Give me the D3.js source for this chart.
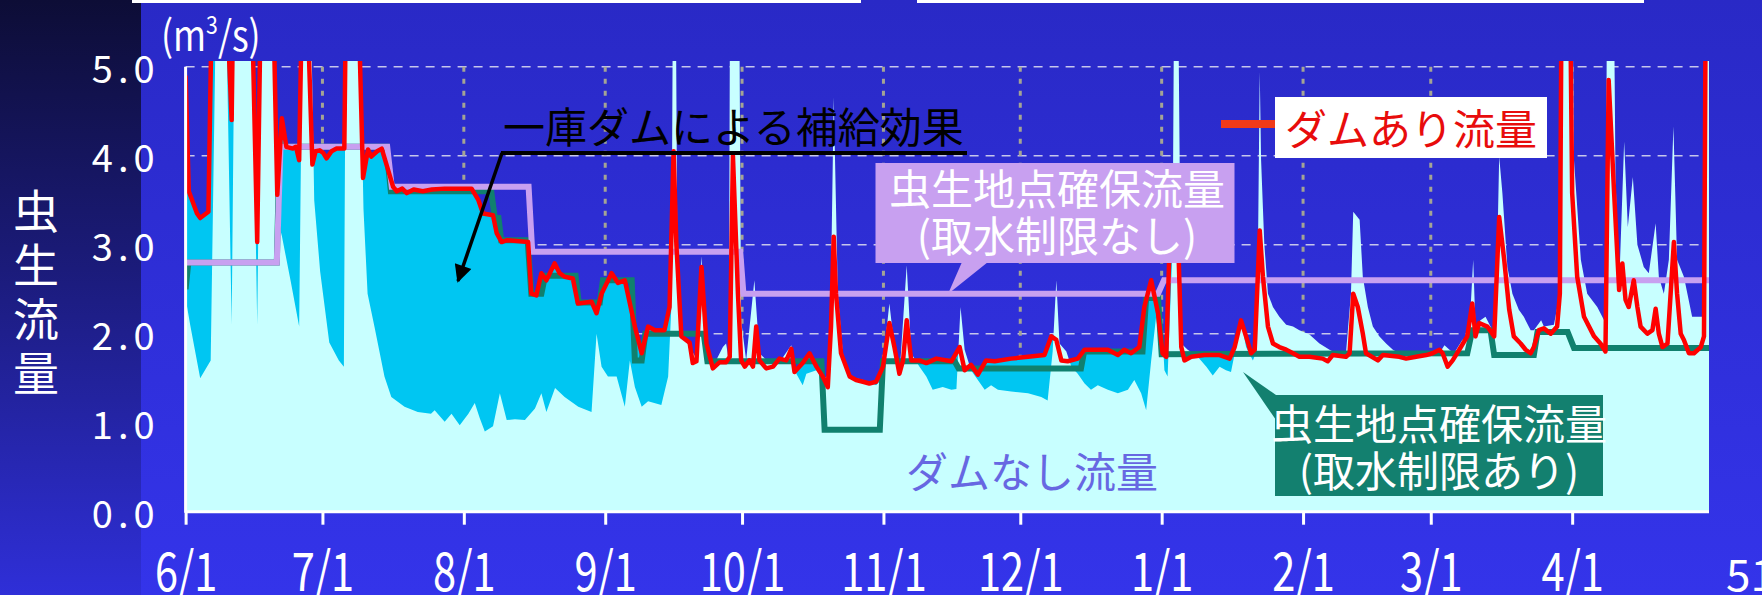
<!DOCTYPE html>
<html>
<head>
<meta charset="utf-8">
<script src="https://cdn.jsdelivr.net/npm/d3@7"></script>
<style>
  html, body { margin: 0; padding: 0; background: #2d2dd4; overflow: hidden; }
  svg { display: block; }
  text { font-family: "Noto Sans CJK JP", "Noto Sans", sans-serif; }
</style>
</head>
<body>
<div id="chart"></div>
<script>
// ========= Data: [day offset from 6/1, m3/s] ========= //
const startDate = Date.UTC(2002, 5, 1);
const endDate = Date.UTC(2003, 4, 1);
const tickLabels = ['6/1', '7/1', '8/1', '9/1', '10/1', '11/1', '12/1', '1/1', '2/1', '3/1', '4/1'];
const yTicks = [0, 1, 2, 3, 4, 5];

// ダムなし流量
const noDamFlow = [[0,2.4],[1,2.1],[3.2,1.5],[5.5,1.7],[6.9,6.5],[8.6,6.5],[10.1,2.1],[10.9,6.5],[14.3,6.5],[15.7,2.1],[16.7,6.5],[18.9,6.5],[20.1,3.3],[21.1,3.1],[23,2.6],[24.9,2.08],[25.8,6.5],[27.2,6.5],[28.2,3.5],[29.5,2.7],[31.5,1.9],[33.6,1.7],[34.7,1.63],[35.2,6.5],[37.8,6.5],[39,3.4],[39.9,2.45],[41.4,2.08],[43.6,1.52],[45.1,1.29],[48,1.18],[50.9,1.12],[53.8,1.1],[54.6,1.14],[56.8,1.01],[58.3,1.1],[60.1,0.97],[62,1.1],[63.4,1.22],[64.5,1.05],[65.6,0.9],[67.4,0.96],[68.9,1.33],[70.4,1.03],[72.2,1.04],[74.4,1.03],[76.6,1.16],[78,1.33],[79.1,1.12],[81,1.39],[83.1,1.29],[86.1,1.18],[89,1.12],[90.1,2],[91.2,1.63],[92.6,1.52],[94.5,1.52],[96.3,1.18],[97.4,1.7],[98.5,1.4],[100,1.18],[101.4,1.24],[104.3,1.2],[105.8,1.52],[106.5,2.3],[106.9,6.5],[107.4,6.5],[107.8,3],[108.6,2],[110.5,1.85],[112,1.72],[113.1,2.87],[114.2,1.89],[115.6,1.63],[117.8,1.85],[118.5,1.89],[119.1,1.7],[119.4,6.5],[121.3,6.5],[121.8,2.15],[122.9,1.7],[124.7,2.6],[125.8,1.78],[128,1.67],[130.2,1.68],[132.8,1.87],[133.9,1.55],[135.3,1.42],[136.1,1.55],[138.3,1.59],[139.7,1.48],[141.2,1.55],[142.1,4.66],[143,2.45],[144.1,1.78],[145.6,1.52],[148.5,1.48],[151.4,1.42],[152.5,1.48],[154.3,2.34],[155.4,1.85],[156.5,1.52],[158.1,2.77],[159.1,1.78],[160.9,1.63],[162.4,1.52],[163.8,1.37],[166,1.4],[167.9,1.37],[169,1.38],[169.9,2.3],[170.8,1.82],[172.2,1.59],[173.7,1.48],[175.2,1.37],[176.6,1.42],[178.1,1.37],[181,1.35],[184.7,1.33],[187.6,1.29],[189,1.25],[190.1,1.8],[190.9,2.6],[191.6,1.89],[193.1,1.8],[194.2,1.63],[195.6,1.55],[197.1,1.44],[198.5,1.37],[200,1.42],[202.2,1.37],[204.4,1.33],[206.6,1.37],[208,1.48],[209.5,1.33],[210.6,1.14],[211.7,1.7],[212.8,2.2],[213.9,2.27],[214.6,1.59],[215.3,1.52],[216.4,3],[216.8,6.5],[217.5,6.5],[218.3,1.89],[219.7,1.82],[221.9,1.74],[223.8,1.63],[225.2,1.53],[226.7,1.63],[228.1,1.59],[229.2,1.57],[230.3,1.85],[231.4,2.15],[232.5,1.85],[234,1.7],[234.9,1.82],[235.5,4.95],[235.8,3.95],[236.5,3.01],[237.3,2.45],[238.4,2.3],[239.8,2.19],[241.3,2.1],[242.8,2.08],[244.2,2.04],[246.4,1.99],[248.6,1.89],[250.8,1.82],[252.3,1.78],[254.4,1.78],[255.5,2.45],[256,3.37],[257.4,3.28],[258.1,2.64],[259.2,2.3],[260.3,2.08],[261.7,1.97],[263.2,1.89],[264.7,1.82],[266.1,1.78],[274.9,1.78],[276,1.87],[277.1,1.82],[278.1,1.78],[279.9,1.93],[281.4,1.97],[282.3,2.83],[282.8,2.08],[283.9,2.15],[285,2.19],[286.1,2.08],[287.2,2],[288,3.99],[288.7,3.58],[289.8,2.75],[290.9,2.45],[292.3,2.27],[293.4,2.19],[294.9,2.04],[295.6,2.04],[297.2,2.15],[297.8,2.08],[300,2.1],[301.3,2.45],[301.8,8],[303.7,8],[304.4,3.95],[305.9,2.83],[307.3,2.45],[309.5,2.3],[311,2.15],[311.3,1.9],[311.8,8],[312.8,8],[313.5,3.76],[314.3,2.53],[315.4,4.16],[316.2,3.2],[317.3,3.76],[318.3,3],[319.7,2.75],[320.8,2.68],[322.3,3.24],[323,2.64],[324.1,2.45],[325.2,2.83],[326.2,4.33],[327,2.83],[328.5,2.64],[330.3,2.19],[332.5,2.19],[333,2.5],[333.4,8],[334,8]];

// ダムあり流量
const damFlow = [[0,4.9],[0.7,3.6],[2.5,3.35],[3.2,3.3],[5,3.37],[6,6.5],[8.4,6.5],[10.1,4.4],[10.6,6.5],[14.2,6.5],[15.7,3.03],[16.7,6.5],[18.9,6.5],[20.1,3.56],[21.1,4.42],[22.1,4.1],[23.5,4.08],[24.2,4.1],[24.9,3.95],[25.6,6],[26.5,6],[27.8,3.9],[28.5,4.05],[29.4,4.06],[30.2,4.03],[30.9,3.97],[32,4.05],[33.1,4.08],[34.8,4.08],[35.3,6.5],[37.5,6.5],[38.9,3.75],[40,4.07],[40.7,3.99],[42,4.05],[43,4.08],[45.5,3.65],[46.3,3.6],[47.5,3.63],[48.5,3.58],[50,3.62],[52,3.6],[54,3.62],[56.8,3.63],[62.7,3.63],[64.2,3.5],[65.2,3.35],[67.4,3.33],[68.2,3.13],[69.3,3.03],[70.4,3.05],[75.1,3.03],[75.8,2.45],[76.9,2.43],[78,2.68],[79.1,2.6],[80.9,2.79],[82,2.68],[83.1,2.64],[84.9,2.62],[86,2.34],[89,2.36],[90.1,2.23],[91.2,2.45],[93.4,2.68],[94.8,2.57],[96.3,2.6],[98.5,2.08],[100,1.78],[101.4,2.08],[102.9,2.04],[105,2.04],[106.1,2.3],[107,4.05],[107.6,3],[108.7,1.97],[110.5,1.9],[111.2,1.67],[112,1.69],[113.1,2.75],[114.2,1.89],[115.6,1.61],[117.1,1.68],[118.5,1.68],[119.3,1.74],[120,4],[121.1,2.45],[121.8,1.7],[122.6,1.63],[123.6,1.7],[124.4,1.63],[125.1,2.08],[125.8,1.7],[127.3,1.61],[128.8,1.63],[130.2,1.72],[131.7,1.7],[132.8,1.83],[133.5,1.57],[135.3,1.67],[136.8,1.78],[138.3,1.63],[139.7,1.52],[140.8,1.4],[141.5,2.08],[142.1,3.09],[142.6,2.45],[143.7,1.78],[145.6,1.52],[147,1.48],[148.5,1.46],[149.9,1.44],[151.4,1.46],[152.9,1.63],[154.3,2.12],[155.4,1.85],[156.5,1.55],[157.3,1.7],[158.1,2.15],[159.1,1.7],[160.9,1.7],[162.4,1.67],[164.6,1.72],[167.9,1.69],[169.7,1.85],[170.8,1.59],[172.2,1.65],[173.7,1.54],[175.5,1.7],[177.4,1.69],[181,1.72],[184.7,1.74],[188.3,1.76],[189.8,1.97],[190.9,1.93],[192,1.7],[193.4,1.69],[195.6,1.72],[197.1,1.82],[202.2,1.82],[204.4,1.76],[205.8,1.82],[207.3,1.78],[209.1,1.85],[210.2,2.3],[211.7,2.6],[213.2,2.23],[214.2,1.78],[215,1.74],[216.2,3.8],[217.3,3.6],[218.3,1.85],[219,1.7],[220.5,1.74],[223.4,1.76],[226.7,1.76],[228.9,1.72],[230,1.85],[231.4,2.15],[232.5,1.97],[233.6,1.78],[234.4,1.82],[235.5,3.16],[236.2,2.64],[237.3,2.08],[238.4,1.89],[239.8,1.85],[241.3,1.82],[242.8,1.78],[244.2,1.74],[246.4,1.74],[249.3,1.72],[250.4,1.69],[251.5,1.76],[254.4,1.74],[255.2,1.78],[256,2.45],[257,2.3],[258.1,2],[258.8,1.78],[261.4,1.7],[262.5,1.76],[266.1,1.74],[267.6,1.72],[269.8,1.74],[272,1.76],[273.4,1.78],[274.9,1.82],[275.6,1.78],[276.7,1.63],[277.8,1.7],[279.6,1.85],[281,1.97],[282.1,2.34],[282.8,1.97],[283.6,2.12],[285.4,2.08],[286.9,1.97],[288,3.31],[289.1,2.83],[290.2,2.27],[291.2,1.97],[292.7,1.89],[293.8,1.82],[294.9,1.78],[295.6,1.85],[296.7,2.04],[297.8,2.06],[299.3,2],[300.7,2.08],[301.3,2.45],[301.8,7],[303.3,7],[304,3.58],[305.1,2.64],[306.6,2.19],[308.8,1.97],[310.2,1.89],[311.3,1.8],[312,4.85],[313.2,3.58],[314.3,2.49],[315,2.79],[315.7,2.38],[316.4,2.3],[317.5,2.6],[318.3,2.3],[319,2.08],[320.5,2],[321.6,2.04],[322.3,2.28],[323,2],[323.8,1.85],[324.9,1.89],[326.3,3.03],[327,2.45],[327.8,2],[328.5,1.93],[329.6,1.78],[330.7,1.78],[332.2,1.85],[332.9,1.97],[333.4,7],[334,7]];

// 虫生地点確保流量（取水制限あり）
const keepFlowLimited = [[0,2.5],[0.6,2.8],[20,2.8],[20.6,4.1],[44,4.1],[45,3.6],[67,3.6],[67.8,3.3],[68.6,3.3],[69.2,3.05],[75,3.05],[75.8,2.45],[78,2.45],[78.8,2.65],[85.5,2.65],[86.2,2.35],[90.8,2.35],[91.5,2.6],[97.8,2.6],[98.5,1.7],[100,1.7],[100.8,2],[113.6,2],[114.4,1.69],[139.4,1.69],[140.1,0.92],[152.2,0.92],[152.9,1.69],[168.6,1.69],[169.5,1.61],[196.3,1.61],[197,1.8],[209.8,1.8],[210.6,2.4],[213.2,2.4],[214,1.77],[281,1.78],[282.1,2.04],[286.1,2.04],[286.9,1.76],[295.6,1.76],[296.4,2.02],[303,2.02],[304.4,1.84],[334,1.84]];

// 虫生地点確保流量（取水制限なし）
const keepFlowFree = [[0,2.8],[20,2.8],[20.8,4.1],[44.2,4.1],[45.2,3.65],[75.2,3.65],[76,2.92],[121.6,2.92],[122.3,2.45],[213.2,2.45],[214.5,2.6],[334,2.6]];

// ========= Setup ========= //
const W = 1762, H = 595;
const svg = d3.select('#chart').append('svg')
  .attr('width', W)
  .attr('height', H);

const x = d3.scaleUtc()
  .domain([new Date(startDate), new Date(endDate)])
  .range([185.6, 1709]);
const y = d3.scaleLinear()
  .domain([0, 5])
  .range([511.7, 66.7]);

const toDate = d => new Date(startDate + d * 864e5);
const tickDates = tickLabels.map(s => {
  const [m, d] = s.split('/').map(Number);
  return new Date(Date.UTC(m >= 6 ? 2002 : 2003, m - 1, d));
});

// ========= Defs ========= //
const defs = svg.append('defs');

const bg = defs.append('linearGradient').attr('id', 'bg').attr('x1', 0).attr('y1', 0).attr('x2', 0).attr('y2', 1);
bg.append('stop').attr('offset', '0%').attr('stop-color', '#2929c6');
bg.append('stop').attr('offset', '100%').attr('stop-color', '#3434ea');

const side = defs.append('linearGradient').attr('id', 'side').attr('x1', 0).attr('y1', 0).attr('x2', 0).attr('y2', 1);
side.append('stop').attr('offset', '0%').attr('stop-color', '#0d0d36');
side.append('stop').attr('offset', '45%').attr('stop-color', '#1b1b7a');
side.append('stop').attr('offset', '100%').attr('stop-color', '#2f2fd8');

defs.append('clipPath').attr('id', 'plot-clip')
  .append('rect')
    .attr('x', x.range()[0])
    .attr('y', 61)
    .attr('width', x.range()[1] - x.range()[0])
    .attr('height', y(0) - 61);

defs.append('marker')
  .attr('id', 'arrow')
  .attr('viewBox', '0 0 10 10')
  .attr('refX', 9).attr('refY', 5)
  .attr('markerWidth', 6).attr('markerHeight', 5)
  .attr('orient', 'auto')
  .append('path')
    .attr('d', 'M0,0 L10,5 L0,10 z')
    .attr('fill', '#000');

// ========= Background ========= //
svg.append('rect').attr('width', W).attr('height', H).attr('fill', 'url(#bg)');
svg.append('rect').attr('width', 141).attr('height', H).attr('fill', 'url(#side)');

// bottom edges of the slide's title boxes
svg.append('rect').attr('x', 132).attr('y', 0).attr('width', 729).attr('height', 3).attr('fill', '#fff');
svg.append('rect').attr('x', 917).attr('y', 0).attr('width', 727).attr('height', 3).attr('fill', '#fff');

// ========= Grid ========= //
svg.append('g').selectAll('line')
  .data(yTicks.filter(v => v > 0))
  .join('line')
    .attr('x1', x.range()[0]).attr('x2', x.range()[1])
    .attr('y1', d => y(d)).attr('y2', d => y(d))
    .attr('stroke', '#c6c6ec')
    .attr('stroke-width', 1.5)
    .attr('stroke-dasharray', '9,7');

svg.append('g').selectAll('line')
  .data(tickDates.slice(1))
  .join('line')
    .attr('x1', d => x(d)).attr('x2', d => x(d))
    .attr('y1', y(5)).attr('y2', y(0))
    .attr('stroke', '#a4a494')
    .attr('stroke-width', 3)
    .attr('stroke-dasharray', '5,7');

// ========= Series ========= //
const plot = svg.append('g').attr('clip-path', 'url(#plot-clip)');

const area = d3.area()
  .x(d => x(toDate(d[0])))
  .y0(y(0))
  .y1(d => y(d[1]));
const line = d3.line()
  .x(d => x(toDate(d[0])))
  .y(d => y(d[1]));

plot.append('path').datum(damFlow)
  .attr('d', area)
  .attr('fill', '#00c6f2');

plot.append('path').datum(noDamFlow)
  .attr('d', area)
  .attr('fill', '#c8ffff');

plot.append('path').datum(keepFlowLimited)
  .attr('d', line)
  .attr('fill', 'none')
  .attr('stroke', '#10806e')
  .attr('stroke-width', 6);

plot.append('path').datum(keepFlowFree)
  .attr('d', line)
  .attr('fill', 'none')
  .attr('stroke', '#c8a0f0')
  .attr('stroke-width', 6);

plot.append('path').datum(damFlow)
  .attr('d', line)
  .attr('fill', 'none')
  .attr('stroke', '#ff0000')
  .attr('stroke-width', 4.5)
  .attr('stroke-linejoin', 'round');

// ========= Axes ========= //
const xAxis = svg.append('g')
  .attr('transform', `translate(0,${y(0)})`)
  .call(d3.axisBottom(x).tickValues(tickDates).tickFormat(d3.utcFormat('%-m/%-d')).tickSize(13));
xAxis.select('.domain').remove();
xAxis.selectAll('.tick line').attr('stroke', '#fff').attr('stroke-width', 3);
xAxis.selectAll('.tick text')
  .attr('fill', '#fff')
  .attr('font-size', 54)
  .attr('y', 79)
  .attr('dy', 0)
  .attr('transform', 'scale(0.77,1)');

const yAxis = svg.append('g')
  .attr('transform', `translate(${x.range()[0]},0)`)
  .call(d3.axisLeft(y).tickValues(yTicks).tickFormat(d3.format('.1f')).tickSize(0).tickPadding(26));
yAxis.select('.domain').remove();
yAxis.selectAll('.tick text')
  .attr('fill', '#fff')
  .attr('font-size', 38)
  .attr('letter-spacing', 5)
  .attr('dy', '0.42em');

svg.append('line')
  .attr('x1', x.range()[0]).attr('x2', x.range()[0])
  .attr('y1', y(5)).attr('y2', y(0) + 1)
  .attr('stroke', '#fff').attr('stroke-width', 3);
svg.append('line')
  .attr('x1', x.range()[0]).attr('x2', x.range()[1])
  .attr('y1', y(0)).attr('y2', y(0))
  .attr('stroke', '#fff').attr('stroke-width', 3);

// unit
svg.append('text')
  .attr('transform', 'translate(161,51) scale(0.85,1)')
  .attr('fill', '#fff')
  .attr('font-size', 42)
  .call(t => {
    t.append('tspan').text('(m');
    t.append('tspan').attr('font-size', 25).attr('dy', -17).text('3');
    t.append('tspan').attr('dy', 17).text('/s)');
  });

// vertical axis title
svg.append('g').selectAll('text')
  .data(['虫', '生', '流', '量'])
  .join('text')
    .attr('x', 36)
    .attr('y', (d, i) => 208 + i * 54)
    .attr('text-anchor', 'middle')
    .attr('dominant-baseline', 'central')
    .attr('fill', '#fff')
    .attr('font-size', 46)
    .text(d => d);

// ========= Annotations ========= //
// supply effect
svg.append('text')
  .attr('x', 503).attr('y', 124)
  .attr('dominant-baseline', 'central')
  .attr('font-size', 42)
  .attr('fill', '#000')
  .text('一庫ダムによる補給効果');
svg.append('line')
  .attr('x1', 501).attr('y1', 153).attr('x2', 967).attr('y2', 153)
  .attr('stroke', '#000').attr('stroke-width', 4);
svg.append('line')
  .attr('x1', 502).attr('y1', 153).attr('x2', 458).attr('y2', 281)
  .attr('stroke', '#000').attr('stroke-width', 3.5)
  .attr('marker-end', 'url(#arrow)');

// callout: 取水制限なし
svg.append('path')
  .attr('d', 'M962,262 L988,262 L948,294 Z')
  .attr('fill', '#c8a0f0');
svg.append('rect')
  .attr('x', 875.5).attr('y', 163).attr('width', 359).attr('height', 100)
  .attr('fill', '#c8a0f0');
svg.append('g').selectAll('text')
  .data(['虫生地点確保流量', '(取水制限なし)'])
  .join('text')
    .attr('x', 1057)
    .attr('y', (d, i) => 186 + i * 47)
    .attr('text-anchor', 'middle')
    .attr('dominant-baseline', 'central')
    .attr('font-size', 42)
    .attr('fill', '#fff')
    .text(d => d);

// legend: ダムあり流量
svg.append('line')
  .attr('x1', 1221).attr('x2', 1276).attr('y1', 124).attr('y2', 124)
  .attr('stroke', '#f03a18').attr('stroke-width', 8);
svg.append('rect')
  .attr('x', 1275).attr('y', 97).attr('width', 272).attr('height', 61)
  .attr('fill', '#fff');
svg.append('text')
  .attr('x', 1411).attr('y', 126)
  .attr('text-anchor', 'middle')
  .attr('dominant-baseline', 'central')
  .attr('font-size', 42)
  .attr('fill', '#e80c0c')
  .text('ダムあり流量');

// callout: 取水制限あり
svg.append('path')
  .attr('d', 'M1243,372 L1276,395 L1276,420 Z')
  .attr('fill', '#13806f');
svg.append('rect')
  .attr('x', 1275).attr('y', 395).attr('width', 328).attr('height', 101)
  .attr('fill', '#13806f');
svg.append('g').selectAll('text')
  .data(['虫生地点確保流量', '(取水制限あり)'])
  .join('text')
    .attr('x', 1439)
    .attr('y', (d, i) => 421 + i * 47)
    .attr('text-anchor', 'middle')
    .attr('dominant-baseline', 'central')
    .attr('font-size', 42)
    .attr('fill', '#fff')
    .text(d => d);

// no-dam label
svg.append('text')
  .attr('x', 1032).attr('y', 469)
  .attr('text-anchor', 'middle')
  .attr('dominant-baseline', 'central')
  .attr('font-size', 42)
  .attr('fill', '#6767e2')
  .text('ダムなし流量');

// page number
svg.append('text')
  .attr('x', 1726).attr('y', 591)
  .attr('font-family', '"Liberation Serif", serif')
  .attr('font-size', 44)
  .attr('fill', '#fff')
  .text('51');
</script>
</body>
</html>
